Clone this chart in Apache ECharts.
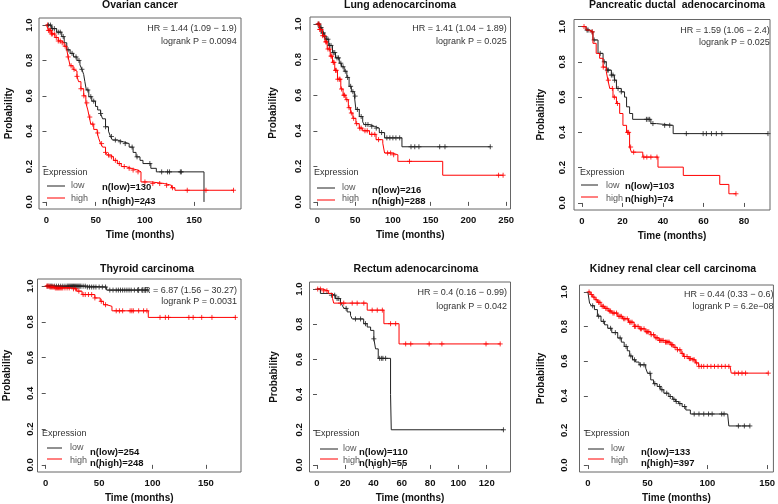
<!DOCTYPE html>
<html>
<head>
<meta charset="utf-8">
<script src="https://cdn.jsdelivr.net/npm/echarts@6/dist/echarts.min.js"></script>
<style>
  html, body { margin: 0; padding: 0; background: #fff; }
  #main { width: 778px; height: 504px; }
</style>
</head>
<body>
<div id="main"></div>
<script>
// ---- data: [time (months), survival probability] ----
var titles = ['Ovarian cancer', 'Lung adenocarcinoma', 'Pancreatic ductal  adenocarcinoma',
  'Thyroid carcinoma', 'Rectum adenocarcinoma', 'Kidney renal clear cell carcinoma'];
var hrTexts = ['HR = 1.44 (1.09 \u2212 1.9)', 'HR = 1.41 (1.04 \u2212 1.89)', 'HR = 1.59 (1.06 \u2212 2.4)',
  'HR = 6.87 (1.56 \u2212 30.27)', 'HR = 0.4 (0.16 \u2212 0.99)', 'HR = 0.44 (0.33 \u2212 0.6)'];
var pTexts = ['logrank P = 0.0094', 'logrank P = 0.025', 'logrank P = 0.025',
  'logrank P = 0.0031', 'logrank P = 0.042', 'logrank P = 6.2e\u221208'];
var nLow = [130, 216, 103, 254, 110, 133];
var nHigh = [243, 288, 74, 248, 55, 397];
var xTicks = [[0, 50, 100, 150], [0, 50, 100, 150, 200, 250], [0, 20, 40, 60, 80],
  [0, 50, 100, 150], [0, 20, 40, 60, 80, 100, 120], [0, 50, 100, 150]];
var yTicks = [0, 0.2, 0.4, 0.6, 0.8, 1.0];

var ovarianLow = [[0,1],[5,0.98],[10.3,0.96],[15.5,0.935],[18,0.9],[20.6,0.86],[24,0.84],[27.5,0.82],[31,0.8],
  [34,0.775],[36,0.75],[37.8,0.72],[39,0.68],[40.5,0.633],[43,0.595],[46,0.57],[49.8,0.54],[52,0.52],[55,0.5],
  [57,0.47],[60,0.425],[63,0.4],[65,0.37],[67,0.35],[72,0.34],[78,0.33],[84,0.31],[88,0.28],[91,0.255],
  [95,0.235],[98,0.217],[106,0.19],[111.6,0.17],[160,0]];
var ovarianLowCens = [2,4,6,8,12,14,17,22,26,30,33,36,42,45,48,55,60,66,70,75,80,87,92,105,117,123,125,136,137];
var ovarianHigh = [[0,1],[2,0.97],[5,0.95],[8.6,0.93],[12,0.91],[15.5,0.9],[18,0.88],[20.6,0.86],[22,0.82],
  [24,0.77],[27,0.75],[29,0.74],[31,0.71],[32.6,0.68],[35,0.64],[37.8,0.6],[40,0.56],[42,0.52],[43.5,0.48],
  [45,0.44],[48,0.41],[51.5,0.39],[53,0.36],[55,0.33],[57,0.31],[60,0.28],[62,0.265],[65,0.255],[68,0.235],
  [72,0.217],[76,0.2],[80.7,0.19],[86,0.18],[92.7,0.17],[96,0.113],[106.4,0.104],[120,0.094],[127,0.08],
  [130.5,0.066],[190,0.066]];
var ovarianHighCens = [1,2,3,4,5,6,8,10,12,14,16,19,22,25,28,31,35,38,41,44,47,52,56,60,63,66,70,74,79,84,
  88,93,100,108,115,122,128,143,162,190];

var lungLow = [[0,1],[3,0.98],[6,0.95],[9,0.93],[11,0.915],[15,0.88],[20,0.84],[24,0.81],[29,0.78],[32,0.76],
  [35.5,0.735],[39,0.7],[42,0.65],[45,0.62],[49,0.595],[51,0.52],[55.5,0.48],[60,0.45],[62,0.435],[69,0.425],
  [75.5,0.415],[82,0.39],[89,0.36],[112,0.31],[229,0.31]];
var lungLowCens = [1,2,4,5,7,8,10,12,14,16,18,21,23,26,28,31,34,37,40,44,47,50,53,58,64,67,72,78,85,
  92,96,100,104,109,124,129,134.5,162,169,229];
var lungHigh = [[0,1],[3,0.97],[6.7,0.935],[10,0.9],[13,0.86],[17,0.82],[20,0.785],[23,0.74],[26.6,0.69],
  [31,0.635],[34,0.6],[37.7,0.575],[41,0.53],[44,0.5],[47,0.47],[51,0.44],[55.5,0.415],[60,0.4],[69,0.38],
  [77.7,0.35],[86.6,0.33],[89,0.275],[99,0.265],[106.6,0.228],[166,0.15],[246,0.15]];
var lungHighCens = [1,2,3,4,5,7,9,11,12,14,16,18,19,21,22,24,25,27,29,30,32,35,36,39,42,45,48,52,56,
  58,63,66,72,76,81,93,97,101,122,240,246];

var pancLow = [[0,1],[2,0.98],[3.8,0.97],[5.4,0.924],[7.9,0.848],[10.4,0.8],[12,0.753],[14.5,0.725],
  [16,0.696],[17,0.649],[19.4,0.63],[21,0.6],[22,0.545],[23.5,0.507],[25,0.474],[34,0.45],[36.7,0.44],
  [45,0.393],[91.8,0.393]];
var pancLowCens = [2.5,3,5,6,9,11,12.5,13,14.5,15.3,16.1,17.8,19.4,31.8,32.6,33.4,35,40.8,43.3,51.5,59.8,
  61.4,63.9,66.3,69,91.8];
var pancHigh = [[0,1],[2,0.98],[3.8,0.97],[5.4,0.905],[7,0.848],[8.7,0.82],[10.4,0.77],[12,0.744],
  [12.8,0.696],[13.7,0.649],[15.3,0.6],[17,0.564],[18.6,0.507],[20.2,0.44],[22,0.4],[23.5,0.317],
  [24.4,0.288],[30,0.26],[37.5,0.203],[50,0.156],[68,0.105],[72.5,0.052],[76,0.052]];
var pancHighCens = [1,5,10.5,13,15,16,17.5,22.5,23,24,25.5,30.5,32,34,37,76];

var thyLow = [[0,1],[20,1],[38,0.995],[57,0.978],[95,0.978]];
var thyLowCens = [2,4,5,6,8,10,12,14,16,18,20,21,22,23,24,25,26,27,28,29,30,31,32,33,35,37,39,41,43,45,
  47,50,53,56,60,63,66,68,70,72,74,76,78,80,83,86,90,93,95];
var thyHigh = [[0,1],[4,0.995],[9,0.99],[24,0.985],[29,0.972],[34,0.953],[46,0.934],[51,0.915],[54,0.896],
  [57,0.887],[62,0.862],[96,0.825],[178,0.825]];
var thyHighCens = [1,2,3,4,5,6,7,8,9,10,11,12,13,14,15,16,18,20,22,26,28,31,35,37,40,43,46,52,56,66,69,
  72,79,80.6,82,87,91.6,94.7,107,112,115,134,138,146,155.6,177.5];

var recLow = [[0,1],[2.4,0.975],[9.5,0.965],[13,0.946],[16.6,0.927],[17.8,0.908],[19,0.89],[21.3,0.87],
  [23.7,0.85],[24.9,0.83],[33,0.803],[35.5,0.784],[37.9,0.765],[40.2,0.717],[41.4,0.66],[43.3,0.606],
  [52,0.4],[52.5,0.2],[131.8,0.2]];
var recLowCens = [10.2,12.5,14.2,15.4,20.6,27.2,30.8,34.3,40.2,44.3,45.7,46.6,48.5,131.8];
var recHigh = [[0,1],[4,0.99],[8,0.975],[11,0.946],[11.8,0.92],[35.5,0.88],[47.3,0.803],[58,0.688],
  [129.5,0.688]];
var recHighCens = [0.5,2.4,4.7,7,16.6,18.9,24.9,28.4,33.1,39,42.6,46.2,52,55.6,62.7,66.3,79.3,88.3,119.5,129.5];

var kidLow = [[0,1],[1.4,0.936],[3,0.92],[5.5,0.898],[8,0.86],[11,0.83],[14,0.81],[16.6,0.79],[20,0.765],
  [25,0.734],[28,0.71],[30.4,0.685],[33,0.66],[35,0.63],[37.4,0.608],[40,0.595],[42.9,0.579],[48.4,0.56],
  [50,0.53],[52.6,0.492],[55,0.47],[58,0.454],[61,0.435],[63.6,0.415],[67.8,0.396],[71,0.38],[73.3,0.367],
  [76,0.355],[78.9,0.338],[82,0.318],[85.8,0.295],[117,0.295],[118,0.226],[135.6,0.226]];
var kidLowCens = [4,9,13,19,23,27,32,36,39,44,47,52,56,60,62,66,69,72,74,77,81,89,93,97,101,104,112,114,
  126,131,135.6];
var kidHigh = [[0,1],[2,0.985],[4,0.97],[6,0.955],[8,0.94],[11,0.917],[14,0.905],[17,0.89],[20,0.878],
  [25,0.859],[29,0.845],[34,0.825],[38.7,0.801],[43,0.787],[48,0.77],[52.6,0.753],[56,0.735],[59.5,0.72],
  [64,0.71],[69,0.695],[72,0.68],[74.7,0.666],[78,0.645],[80,0.627],[84,0.615],[87,0.608],[90,0.59],
  [92.7,0.57],[119,0.57],[120,0.531],[151,0.531]];
var kidHighCens = [1,3,5,7,9,10,12,13,15,16,18,19,21,22,24,26,27,28,30,31,33,35,36,37,39,40,42,44,45,47,
  49,50,51,53,55,57,58,60,61,62,63,65,66,67,68,70,71,73,75,77,79,81,83,85,86,88,89,91,93,95,97,100,103,
  106,109,112,115,118,123,126,129,132,151];

var lowCurves = [ovarianLow, lungLow, pancLow, thyLow, recLow, kidLow];
var lowCens = [ovarianLowCens, lungLowCens, pancLowCens, thyLowCens, recLowCens, kidLowCens];
var highCurves = [ovarianHigh, lungHigh, pancHigh, thyHigh, recHigh, kidHigh];
var highCens = [ovarianHighCens, lungHighCens, pancHighCens, thyHighCens, recHighCens, kidHighCens];

// ---- layout (pixels) ----
var FONT = '"Liberation Sans", Arial, sans-serif';
var layout = [
  { box: [39, 18, 202, 191], xr: [-7.6, 197.6], ym: 4.5, yGap: 25, title: [140, 5.5], hr: [236.7, 29, 42],
    exp: [43, 173], line: [47, 65], lineY: [186, 198], lowX: 71, txtY: [186, 199], nX: 102, nY: [187, 201] },
  { box: [310, 17, 200.5, 192], xr: [-9.8, 255.8], ym: 7, yGap: 32, title: [400, 5.5], hr: [506.7, 29, 42],
    exp: [314, 173], line: [317, 335], lineY: [188, 200], lowX: 342, txtY: [188, 199], nX: 372, nY: [190, 201] },
  { box: [574, 19.5, 196, 190.5], xr: [-3.95, 92.8], ym: 7, yGap: 28, title: [677, 5.5], hr: [769.7, 31, 43],
    exp: [580, 173], line: [581, 598], lineY: [185, 197], lowX: 606, txtY: [186, 199], nX: 625, nY: [186, 199] },
  { box: [37.5, 279, 203.5, 195], xr: [-7.7, 182.8], ym: 2, yGap: 25, title: [147, 269], hr: [237, 291, 302],
    exp: [42, 434], line: [47, 62], lineY: [448, 459], lowX: 70, txtY: [448, 461], nX: 90, nY: [452, 463] },
  { box: [309.5, 282, 201, 193], xr: [-5.3, 136.8], ym: 5.5, yGap: 30, title: [416, 269], hr: [507, 293, 307],
    exp: [315, 434], line: [320, 338], lineY: [449, 459], lowX: 343, txtY: [449, 461], nX: 359, nY: [452, 463] },
  { box: [579.5, 285, 195.5, 189], xr: [-7, 155.3], ym: 10.5, yGap: 33, title: [673, 269], hr: [773.5, 295, 307],
    exp: [585, 434], line: [588, 604], lineY: [449, 459], lowX: 611, txtY: [449, 461], nX: 641, nY: [452, 463] }
];

var LOW_COLOR = '#222';
var HIGH_COLOR = '#ff0000';
var PLUS = 'path://M0,4L8,4M4,0L4,8';

function survAt(curve, t) {
  var s = curve[0][1];
  for (var i = 0; i < curve.length; i++) {
    if (curve[i][0] <= t) s = curve[i][1];
  }
  return s;
}

var grids = [], xAxes = [], yAxes = [], series = [], graphics = [];

layout.forEach(function (L, i) {
  grids.push({
    left: L.box[0], top: L.box[1], width: L.box[2], height: L.box[3],
    show: true, borderColor: '#666', borderWidth: 1, backgroundColor: 'transparent'
  });
  xAxes.push({
    gridIndex: i, type: 'value', min: L.xr[0], max: L.xr[1],
    axisLine: { show: false }, splitLine: { show: false },
    axisTick: { show: true, length: 4, customValues: xTicks[i], lineStyle: { color: '#555' } },
    axisLabel: { customValues: xTicks[i], margin: 6, fontSize: 9.5, fontWeight: 'bold', color: '#111', fontFamily: FONT },
    name: 'Time (months)', nameLocation: 'middle', nameGap: 21,
    nameTextStyle: { fontSize: 10, fontWeight: 'bold', color: '#111', fontFamily: FONT }
  });
  yAxes.push({
    gridIndex: i, type: 'value', min: -0.04, max: 1.04,
    axisLine: { show: false }, splitLine: { show: false },
    axisTick: { show: true, length: 4, customValues: yTicks, lineStyle: { color: '#555' } },
    axisLabel: {
      customValues: yTicks, rotate: 90, margin: L.ym, fontSize: 9.5, fontWeight: 'bold', color: '#111',
      fontFamily: FONT, formatter: function (v) { return v.toFixed(1); }
    },
    name: 'Probability', nameLocation: 'middle', nameGap: L.yGap, nameRotate: 90,
    nameTextStyle: { fontSize: 10, fontWeight: 'bold', color: '#111', fontFamily: FONT }
  });

  [[lowCurves[i], lowCens[i], LOW_COLOR], [highCurves[i], highCens[i], HIGH_COLOR]].forEach(function (g) {
    series.push({
      type: 'line', step: 'end', xAxisIndex: i, yAxisIndex: i, data: g[0],
      showSymbol: false, silent: true, lineStyle: { color: g[2], width: 1 }
    });
    series.push({
      type: 'scatter', xAxisIndex: i, yAxisIndex: i, silent: true,
      data: g[1].map(function (t) { return [t, survAt(g[0], t)]; }),
      symbol: PLUS, symbolSize: 5,
      itemStyle: { color: 'rgba(0,0,0,0)', borderColor: g[2], borderWidth: 1 }
    });
  });

  function txt(x, y, s, align, size, weight, color) {
    graphics.push({
      type: 'text', x: x, y: y, z: 1, silent: true,
      style: { text: s, textAlign: align, textVerticalAlign: 'middle', fontSize: size,
        fontWeight: weight, fill: color, fontFamily: FONT }
    });
  }
  txt(L.title[0], L.title[1], titles[i], 'center', 10.5, 'bold', '#111');
  txt(L.hr[0], L.hr[1], hrTexts[i], 'right', 9, 'normal', '#333');
  txt(L.hr[0], L.hr[2], pTexts[i], 'right', 9, 'normal', '#333');
  txt(L.exp[0], L.exp[1], 'Expression', 'left', 9, 'normal', '#333');
  txt(L.lowX, L.txtY[0], 'low', 'left', 9, 'normal', '#555');
  txt(L.lowX, L.txtY[1], 'high', 'left', 9, 'normal', '#555');
  txt(L.nX, L.nY[0], 'n(low)=' + nLow[i], 'left', 9.5, 'bold', '#111');
  txt(L.nX, L.nY[1], 'n(high)=' + nHigh[i], 'left', 9.5, 'bold', '#111');
  graphics.push({ type: 'line', silent: true, shape: { x1: L.line[0], y1: L.lineY[0], x2: L.line[1], y2: L.lineY[0] },
    style: { stroke: LOW_COLOR, lineWidth: 1 } });
  graphics.push({ type: 'line', silent: true, shape: { x1: L.line[0], y1: L.lineY[1], x2: L.line[1], y2: L.lineY[1] },
    style: { stroke: HIGH_COLOR, lineWidth: 1 } });
});

var chart = echarts.init(document.getElementById('main'));
chart.setOption({
  animation: false,
  backgroundColor: '#fff',
  grid: grids,
  xAxis: xAxes,
  yAxis: yAxes,
  series: series,
  graphic: graphics
});
</script>
</body>
</html>
